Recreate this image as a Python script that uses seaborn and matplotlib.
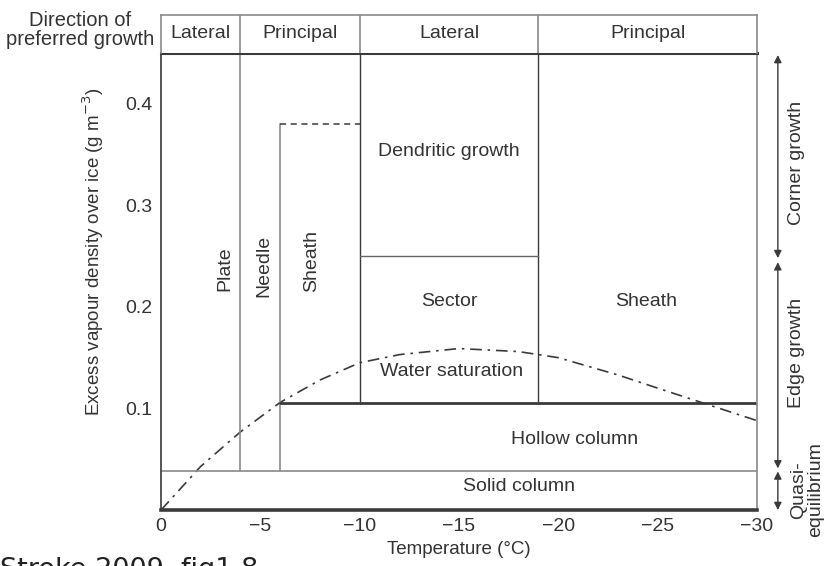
import numpy as np
import pandas as pd
import matplotlib
matplotlib.use("Agg")
import matplotlib.pyplot as plt
import seaborn as sns

# ---- data ----
temps = [0, -2, -4, -6, -8, -10, -12, -15, -18, -20, -23, -25, -27.5, -30]
water_sat = [0.0, 0.043, 0.077, 0.106, 0.128, 0.145, 0.153, 0.159, 0.156, 0.150, 0.133, 0.120, 0.104, 0.088]

header_bounds = [0, -4, -10, -19, -30]
header_labels = ["Lateral", "Principal", "Lateral", "Principal"]

x_ticks = [0, -5, -10, -15, -20, -25, -30]
x_ticklabels = ["0", "\u22125", "\u221210", "\u221215", "\u221220", "\u221225", "\u221230"]
y_ticks = [0.1, 0.2, 0.3, 0.4]
y_ticklabels = ["0.1", "0.2", "0.3", "0.4"]

solid_top = 0.038
hollow_top = 0.105
sector_top = 0.25
sheath_top = 0.38
y_max = 0.45

regions = [  # (label, x, y, rotation)
    ("Plate", -3.2, 0.238, 90),
    ("Needle", -5.2, 0.240, 90),
    ("Sheath", -7.6, 0.245, 90),
    ("Dendritic growth", -14.5, 0.353, 0),
    ("Sector", -14.5, 0.205, 0),
    ("Sheath", -24.4, 0.205, 0),
    ("Water saturation", -14.6, 0.136, 0),
    ("Hollow column", -20.8, 0.069, 0),
    ("Solid column", -18.0, 0.023, 0),
]

regimes = [  # (label, y_low, y_high, label_y)
    ("Corner growth", 0.248, 0.448, 0.342),
    ("Edge growth", 0.041, 0.244, 0.155),
    ("Quasi-\nequilibrium", 0.0, 0.038, 0.020),
]

# ---- style ----
sns.set_theme(style="white")
plt.rcParams["font.family"] = ["Liberation Sans", "DejaVu Sans"]
plt.rcParams["axes.unicode_minus"] = True
TXT = "#333333"
GRAY = "#8a8a8a"
DARK = "#3a3a3a"
FS = 14

fig = plt.figure(figsize=(8.37, 5.66), dpi=100)
L, B, W, H = 0.1924, 0.0989, 0.712, 0.8075
ax = fig.add_axes([L, B, W, H])

df = pd.DataFrame({"T": temps, "rho": water_sat})
sns.lineplot(data=df, x="T", y="rho", ax=ax, color=DARK, lw=1.2,
             linestyle=(0, (7, 3.5, 1.5, 3.5)), sort=False)

ax.set_xlim(0, -30)
ax.set_ylim(0, y_max)

# boundaries
ax.plot([0, -30], [solid_top, solid_top], color=GRAY, lw=1.2)
ax.plot([-4, -4], [solid_top, y_max], color=GRAY, lw=1.2)
ax.plot([-6, -6], [solid_top, sheath_top], color=GRAY, lw=1.2)
ax.plot([-6, -10], [sheath_top, sheath_top], color=DARK, lw=1.1, linestyle=(0, (4, 3)))
ax.plot([-10, -10], [hollow_top, y_max], color=DARK, lw=1.0)
ax.plot([-19, -19], [hollow_top, y_max], color=DARK, lw=1.0)
ax.plot([-10, -19], [sector_top, sector_top], color="#666666", lw=1.0)
ax.plot([-6, -30], [hollow_top, hollow_top], color=DARK, lw=2.0)

for lab, x, y, rot in regions:
    ax.text(x, y, lab, ha="center", va="center", rotation=rot, fontsize=FS, color=TXT)

# axes styling
ax.set_xticks(x_ticks)
ax.set_xticklabels(x_ticklabels)
ax.set_yticks(y_ticks)
ax.set_yticklabels(y_ticklabels)
ax.tick_params(direction="in", length=7, width=1.0, color=DARK, labelsize=FS,
               labelcolor=TXT, pad=6)
ax.set_xlabel("Temperature (\u00b0C)", fontsize=FS - 0.5, color=TXT, labelpad=4)
ax.set_ylabel("Excess vapour density over ice (g m$^{-3}$)", fontsize=FS - 0.5, color=TXT)
ax.yaxis.set_label_coords(-0.093, 0.565)
for side, lw, c in [("left", 1.2, DARK), ("bottom", 2.6, DARK), ("top", 2.2, DARK), ("right", 1.2, GRAY)]:
    ax.spines[side].set_linewidth(lw)
    ax.spines[side].set_color(c)
    ax.spines[side].set_visible(True)
ax.grid(False)

# right-hand regime arrows
for lab, y0, y1, yl in regimes:
    ax.annotate("", xy=(-31.05, y1), xytext=(-31.05, y0), xycoords="data",
                arrowprops=dict(arrowstyle="<|-|>", color=DARK, lw=1.0,
                                mutation_scale=11, shrinkA=0, shrinkB=0),
                annotation_clip=False)
    xt = -32.0 if "\n" not in lab else -32.5
    ax.text(xt, yl, lab, rotation=90, ha="center", va="center", fontsize=FS,
            color=TXT, clip_on=False, linespacing=1.0)

# header strip
hax = fig.add_axes([L, B + H, W, 0.0671])
hax.set_xlim(0, -30)
hax.set_ylim(0, 1)
hax.set_xticks([])
hax.set_yticks([])
for side in ["top", "left", "right"]:
    hax.spines[side].set_color(GRAY)
    hax.spines[side].set_linewidth(1.2)
hax.spines["bottom"].set_visible(False)
for xb in header_bounds[1:-1]:
    hax.plot([xb, xb], [0, 1], color=GRAY, lw=1.2)
for i, lab in enumerate(header_labels):
    xc = (header_bounds[i] + header_bounds[i + 1]) / 2
    hax.text(xc, 0.52, lab, ha="center", va="center", fontsize=FS, color=TXT)

fig.text(80 / 837, 1 - 30 / 566, "Direction of\npreferred growth", ha="center",
         va="center", fontsize=14.5, color=TXT, linespacing=1.0)

fig.text(0.0, 0.016, "Stroke 2009, fig1.8", ha="left", va="top", fontsize=19.5,
         color="#222222", family="DejaVu Sans")

fig.savefig("out.png", dpi=100)
